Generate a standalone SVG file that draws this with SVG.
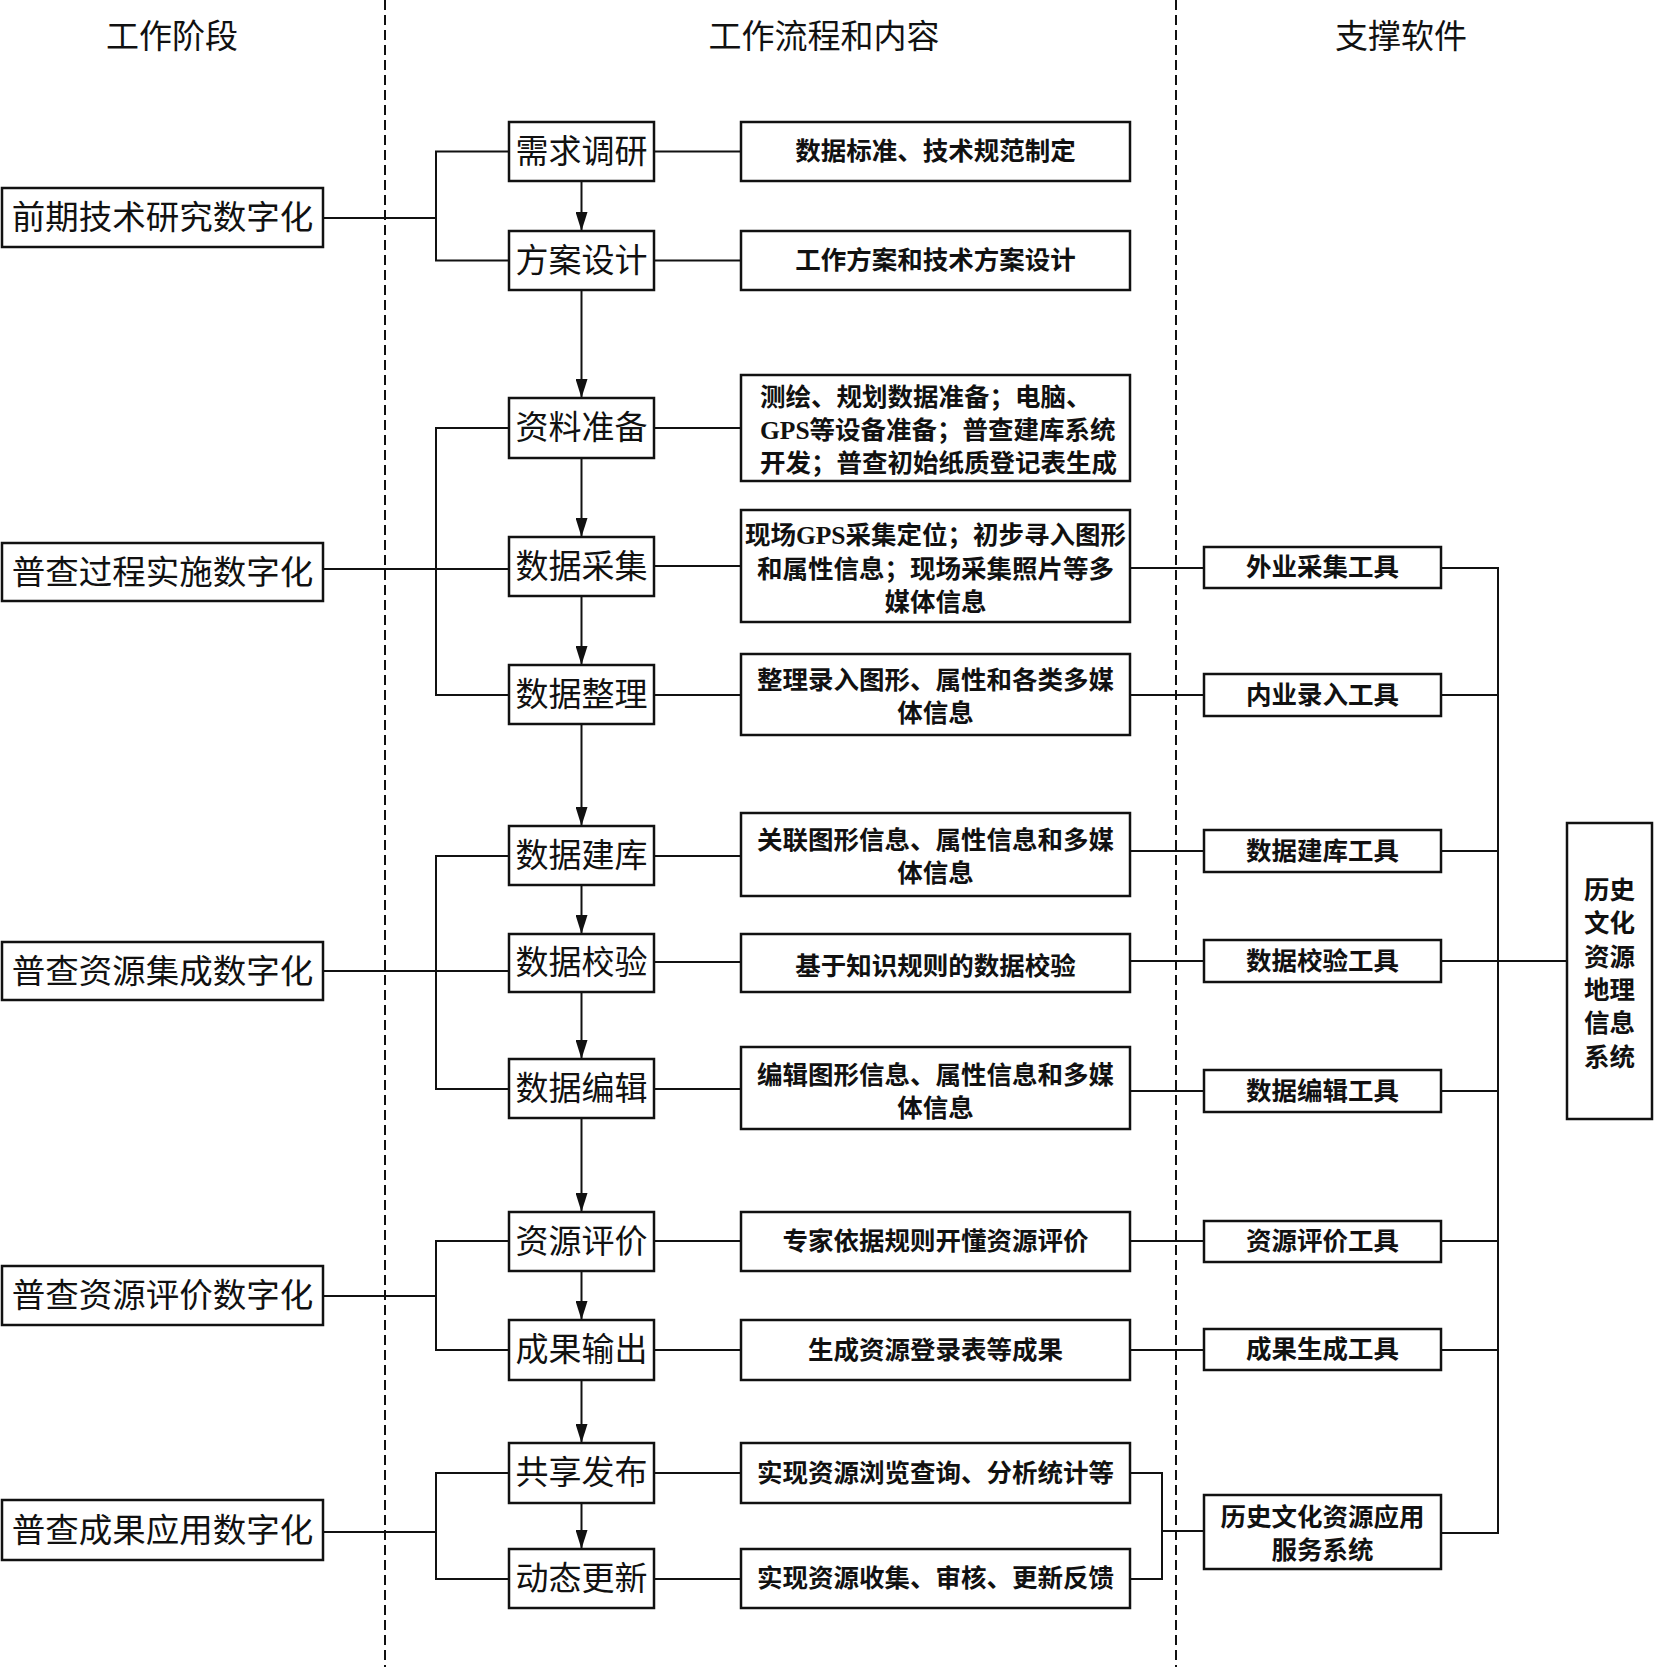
<svg xmlns="http://www.w3.org/2000/svg" width="1654" height="1667" viewBox="0 0 1654 1667">
<style>
text{font-family:"Liberation Serif","Noto Sans CJK SC",serif;fill:#111;text-anchor:middle;dominant-baseline:central}
.hd{font-size:33px}
.st{font-size:33.5px}
.pr{font-size:33px}
.ct{font-size:25.5px;font-weight:bold}
.sw{font-size:25.5px;font-weight:bold}
.lt{text-anchor:start}
rect{fill:#fff;stroke:#111;stroke-width:2.5}
.c line,.c path{stroke:#111;stroke-width:2;fill:none}
.dash{stroke:#111;stroke-width:2;stroke-dasharray:10 5}
</style>
<defs>
<marker id="ah" markerUnits="userSpaceOnUse" markerWidth="12" markerHeight="19" refX="6" refY="19" orient="0" viewBox="0 0 12 19">
<path d="M0,0 L12,0 L6,19 z" fill="#111"/>
</marker>
</defs>
<rect x="0" y="0" width="1654" height="1667" style="stroke:none;fill:#fff"/>
<g id="dividers">
<line class="dash" x1="385" y1="0" x2="385" y2="1667"/>
<line class="dash" x1="1176" y1="0" x2="1176" y2="1667"/>
</g>
<g id="headers">
<text class="hd" x="172" y="37">工作阶段</text>
<text class="hd" x="824" y="37">工作流程和内容</text>
<text class="hd" x="1401" y="37">支撑软件</text>
</g>
<g class="c" id="connectors">
<path d="M323,218 H436 M509,151.5 H436 V260.5 H509"/>
<path d="M323,569 H509 M509,428 H436 V695 H509"/>
<path d="M323,971 H509 M509,856 H436 V1089 H509"/>
<path d="M323,1296 H436 M509,1241 H436 V1350 H509"/>
<path d="M323,1532 H436 M509,1473 H436 V1579 H509"/>
<line x1="654" y1="151.5" x2="741" y2="151.5"/>
<line x1="654" y1="260.5" x2="741" y2="260.5"/>
<line x1="654" y1="428" x2="741" y2="428"/>
<line x1="654" y1="566" x2="741" y2="566"/>
<line x1="654" y1="695" x2="741" y2="695"/>
<line x1="654" y1="856" x2="741" y2="856"/>
<line x1="654" y1="962" x2="741" y2="962"/>
<line x1="654" y1="1089" x2="741" y2="1089"/>
<line x1="654" y1="1241" x2="741" y2="1241"/>
<line x1="654" y1="1350" x2="741" y2="1350"/>
<line x1="654" y1="1473" x2="741" y2="1473"/>
<line x1="654" y1="1579" x2="741" y2="1579"/>
<line x1="581.5" y1="181" x2="581.5" y2="231" marker-end="url(#ah)"/>
<line x1="581.5" y1="290" x2="581.5" y2="398" marker-end="url(#ah)"/>
<line x1="581.5" y1="458" x2="581.5" y2="537" marker-end="url(#ah)"/>
<line x1="581.5" y1="596" x2="581.5" y2="665" marker-end="url(#ah)"/>
<line x1="581.5" y1="724" x2="581.5" y2="826" marker-end="url(#ah)"/>
<line x1="581.5" y1="885" x2="581.5" y2="934" marker-end="url(#ah)"/>
<line x1="581.5" y1="992" x2="581.5" y2="1059" marker-end="url(#ah)"/>
<line x1="581.5" y1="1118" x2="581.5" y2="1212" marker-end="url(#ah)"/>
<line x1="581.5" y1="1271" x2="581.5" y2="1320" marker-end="url(#ah)"/>
<line x1="581.5" y1="1380" x2="581.5" y2="1443" marker-end="url(#ah)"/>
<line x1="581.5" y1="1503" x2="581.5" y2="1549" marker-end="url(#ah)"/>
<line x1="1130" y1="568" x2="1204" y2="568"/>
<line x1="1130" y1="695" x2="1204" y2="695"/>
<line x1="1130" y1="851" x2="1204" y2="851"/>
<line x1="1130" y1="961" x2="1204" y2="961"/>
<line x1="1130" y1="1091" x2="1204" y2="1091"/>
<line x1="1130" y1="1241" x2="1204" y2="1241"/>
<line x1="1130" y1="1350" x2="1204" y2="1350"/>
<path d="M1130,1473 H1162 V1579 H1130 M1162,1531 H1204"/>
<path d="M1441,568 H1498 V1533 H1441"/>
<line x1="1441" y1="695" x2="1498" y2="695"/>
<line x1="1441" y1="851" x2="1498" y2="851"/>
<line x1="1441" y1="961" x2="1567" y2="961"/>
<line x1="1441" y1="1091" x2="1498" y2="1091"/>
<line x1="1441" y1="1241" x2="1498" y2="1241"/>
<line x1="1441" y1="1350" x2="1498" y2="1350"/>
</g>
<g id="stage1"><rect x="2" y="188" width="321" height="59"/><text class="st" x="162.5" y="217.5">前期技术研究数字化</text></g>
<g id="stage2"><rect x="2" y="543" width="321" height="58"/><text class="st" x="162.5" y="572">普查过程实施数字化</text></g>
<g id="stage3"><rect x="2" y="942" width="321" height="58"/><text class="st" x="162.5" y="971">普查资源集成数字化</text></g>
<g id="stage4"><rect x="2" y="1266" width="321" height="59"/><text class="st" x="162.5" y="1295.5">普查资源评价数字化</text></g>
<g id="stage5"><rect x="2" y="1500" width="321" height="60"/><text class="st" x="162.5" y="1530">普查成果应用数字化</text></g>
<g id="p1"><rect x="509" y="122" width="145" height="59"/><text class="pr" x="581.5" y="151.5">需求调研</text></g>
<g id="p2"><rect x="509" y="231" width="145" height="59"/><text class="pr" x="581.5" y="260.5">方案设计</text></g>
<g id="p3"><rect x="509" y="398" width="145" height="60"/><text class="pr" x="581.5" y="428">资料准备</text></g>
<g id="p4"><rect x="509" y="537" width="145" height="59"/><text class="pr" x="581.5" y="566.5">数据采集</text></g>
<g id="p5"><rect x="509" y="665" width="145" height="59"/><text class="pr" x="581.5" y="694.5">数据整理</text></g>
<g id="p6"><rect x="509" y="826" width="145" height="59"/><text class="pr" x="581.5" y="855.5">数据建库</text></g>
<g id="p7"><rect x="509" y="934" width="145" height="58"/><text class="pr" x="581.5" y="963">数据校验</text></g>
<g id="p8"><rect x="509" y="1059" width="145" height="59"/><text class="pr" x="581.5" y="1088.5">数据编辑</text></g>
<g id="p9"><rect x="509" y="1212" width="145" height="59"/><text class="pr" x="581.5" y="1241.5">资源评价</text></g>
<g id="p10"><rect x="509" y="1320" width="145" height="60"/><text class="pr" x="581.5" y="1350">成果输出</text></g>
<g id="p11"><rect x="509" y="1443" width="145" height="60"/><text class="pr" x="581.5" y="1473">共享发布</text></g>
<g id="p12"><rect x="509" y="1549" width="145" height="59"/><text class="pr" x="581.5" y="1578.5">动态更新</text></g>
<g id="c1"><rect x="741" y="122" width="389" height="59"/><text class="ct" x="935.5" y="151.5">数据标准、技术规范制定</text></g>
<g id="c2"><rect x="741" y="231" width="389" height="59"/><text class="ct" x="935.5" y="260.5">工作方案和技术方案设计</text></g>
<g id="c3"><rect x="741" y="375" width="389" height="106"/>
<text class="ct lt" x="760" y="397">测绘、规划数据准备；电脑、</text>
<text class="ct lt" x="760" y="430">GPS等设备准备；普查建库系统</text>
<text class="ct lt" x="760" y="463">开发；普查初始纸质登记表生成</text></g>
<g id="c4"><rect x="741" y="510" width="389" height="112"/>
<text class="ct" x="935.5" y="535">现场GPS采集定位；初步寻入图形</text>
<text class="ct" x="935.5" y="569">和属性信息；现场采集照片等多</text>
<text class="ct" x="935.5" y="602">媒体信息</text></g>
<g id="c5"><rect x="741" y="654" width="389" height="81"/>
<text class="ct" x="935.5" y="680">整理录入图形、属性和各类多媒</text>
<text class="ct" x="935.5" y="713">体信息</text></g>
<g id="c6"><rect x="741" y="813" width="389" height="83"/>
<text class="ct" x="935.5" y="840">关联图形信息、属性信息和多媒</text>
<text class="ct" x="935.5" y="873">体信息</text></g>
<g id="c7"><rect x="741" y="934" width="389" height="58"/><text class="ct" x="935.5" y="966">基于知识规则的数据校验</text></g>
<g id="c8"><rect x="741" y="1047" width="389" height="82"/>
<text class="ct" x="935.5" y="1075">编辑图形信息、属性信息和多媒</text>
<text class="ct" x="935.5" y="1108">体信息</text></g>
<g id="c9"><rect x="741" y="1212" width="389" height="59"/><text class="ct" x="935.5" y="1241.5">专家依据规则开懂资源评价</text></g>
<g id="c10"><rect x="741" y="1320" width="389" height="60"/><text class="ct" x="935.5" y="1350">生成资源登录表等成果</text></g>
<g id="c11"><rect x="741" y="1443" width="389" height="60"/><text class="ct" x="935.5" y="1473">实现资源浏览查询、分析统计等</text></g>
<g id="c12"><rect x="741" y="1549" width="389" height="59"/><text class="ct" x="935.5" y="1578.5">实现资源收集、审核、更新反馈</text></g>
<g id="s1"><rect x="1204" y="547" width="237" height="41"/><text class="sw" x="1322.5" y="567.5">外业采集工具</text></g>
<g id="s2"><rect x="1204" y="674" width="237" height="42"/><text class="sw" x="1322.5" y="695">内业录入工具</text></g>
<g id="s3"><rect x="1204" y="830" width="237" height="42"/><text class="sw" x="1322.5" y="851">数据建库工具</text></g>
<g id="s4"><rect x="1204" y="940" width="237" height="42"/><text class="sw" x="1322.5" y="961">数据校验工具</text></g>
<g id="s5"><rect x="1204" y="1070" width="237" height="42"/><text class="sw" x="1322.5" y="1091">数据编辑工具</text></g>
<g id="s6"><rect x="1204" y="1221" width="237" height="41"/><text class="sw" x="1322.5" y="1241.5">资源评价工具</text></g>
<g id="s7"><rect x="1204" y="1329" width="237" height="41"/><text class="sw" x="1322.5" y="1349.5">成果生成工具</text></g>
<g id="s8"><rect x="1204" y="1495" width="237" height="74"/>
<text class="sw" x="1322.5" y="1517">历史文化资源应用</text>
<text class="sw" x="1322.5" y="1550">服务系统</text></g>
<g id="gis"><rect x="1567" y="823" width="85" height="296"/>
<text class="sw" x="1609.5" y="890">历史</text>
<text class="sw" x="1609.5" y="923">文化</text>
<text class="sw" x="1609.5" y="957">资源</text>
<text class="sw" x="1609.5" y="990">地理</text>
<text class="sw" x="1609.5" y="1023">信息</text>
<text class="sw" x="1609.5" y="1057">系统</text></g>
</svg>
